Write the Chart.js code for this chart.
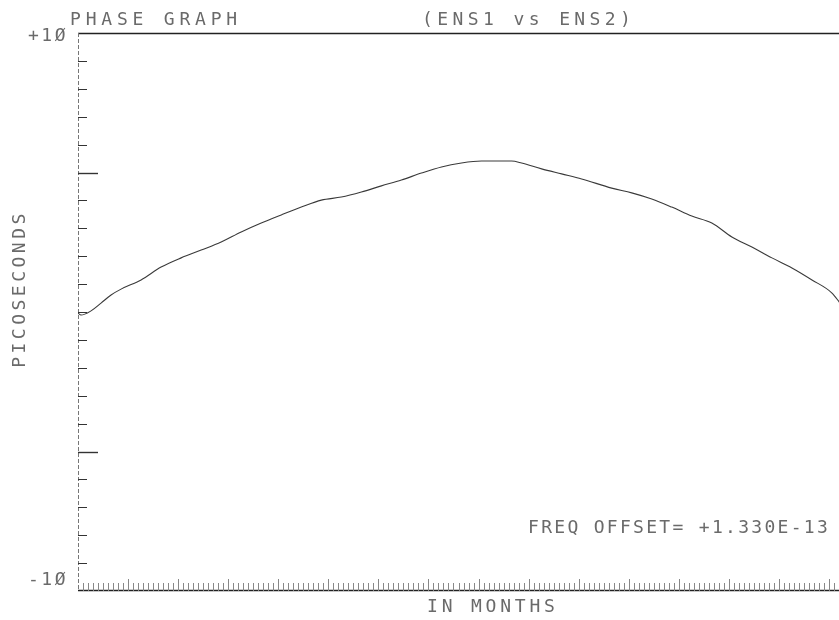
<!DOCTYPE html>
<html>
<head>
<meta charset="utf-8">
<script src="https://cdn.jsdelivr.net/npm/chart.js@4/dist/chart.umd.min.js"></script>
<style>
  html, body { margin: 0; padding: 0; background: #fff; }
  #wrap { width: 839px; height: 620px; position: relative; }
</style>
</head>
<body>
<div id="wrap"><canvas id="phaseChart" width="839" height="620"></canvas></div>
<script>
// time axis (arbitrary plotter units, 0..76) and phase in picoseconds
const timeX = [0, 0.3, 1.3, 2.3, 3.3, 4.3, 6.3, 8.3, 10.3, 12.3, 14.3, 16.3, 18.3, 20.3, 22.3,
  24.3, 26.3, 28.3, 30.3, 32.3, 34.3, 36.3, 38.3, 40.3, 42.3, 43.3, 44.3, 46.3, 48.3, 50.3,
  53.3, 55.3, 57.3, 59.3, 61.3, 63.3, 65.3, 67.3, 69.3, 71.3, 73.3, 75.3, 76.1];
const phasePs = [-0.04, -0.11, 0.04, 0.32, 0.61, 0.82, 1.15, 1.61, 1.94, 2.22, 2.51, 2.87, 3.19, 3.48, 3.76,
  4.01, 4.12, 4.30, 4.52, 4.73, 4.98, 5.20, 5.34, 5.41, 5.41, 5.41, 5.34, 5.13, 4.95, 4.77,
  4.44, 4.27, 4.05, 3.76, 3.44, 3.19, 2.69, 2.33, 1.94, 1.58, 1.15, 0.68, 0.32];

const yTicks = [-10, -9, -8, -7, -6, -5, -4, -3, -2, -1, 0, 1, 2, 3, 4, 5, 6, 7, 8, 9, 10];
const yMajorTicks = [-5, 5];
const yTickLabels = { '10': '+1\u00d8', '-10': '-1\u00d8' };

const titleLeft = 'PHASE GRAPH';
const titleRight = '(ENS1 vs ENS2)';
const yTitle = 'PICOSECONDS';
const xTitle = 'IN MONTHS';
const freqNote = 'FREQ OFFSET= +1.330E-13';

const FONT = '18px "DejaVu Sans Mono", monospace';
const INK = '#6a6a6a';

function txt(ctx, s, x, y, spacing, align) {
  ctx.save();
  ctx.font = FONT;
  ctx.fillStyle = INK;
  ctx.letterSpacing = spacing + 'px';
  ctx.textBaseline = 'middle';
  ctx.textAlign = align || 'left';
  ctx.fillText(s, x, y);
  ctx.restore();
}

const plotterFrame = {
  id: 'plotterFrame',
  beforeDatasetsDraw(chart) {
    const { ctx, chartArea: a, scales: { x, y } } = chart;
    ctx.save();
    // top and bottom frame lines
    ctx.strokeStyle = '#222';
    ctx.lineWidth = 1.3;
    ctx.beginPath();
    ctx.moveTo(a.left, a.top + 0.5); ctx.lineTo(a.right, a.top + 0.5);
    ctx.moveTo(a.left, a.bottom - 0.5); ctx.lineTo(a.right, a.bottom - 0.5);
    ctx.stroke();
    // left axis, light dashed
    ctx.strokeStyle = '#777';
    ctx.lineWidth = 1;
    ctx.setLineDash([4, 2]);
    ctx.beginPath();
    ctx.moveTo(a.left + 0.5, a.top); ctx.lineTo(a.left + 0.5, a.bottom);
    ctx.stroke();
    ctx.setLineDash([]);
    // y ticks pointing into the plot
    ctx.strokeStyle = '#333';
    yTicks.forEach(v => {
      if (v === 10 || v === -10) return;
      const py = Math.round(y.getPixelForValue(v)) + 0.5;
      const major = yMajorTicks.includes(v);
      ctx.lineWidth = major ? 1.4 : 1;
      ctx.beginPath();
      ctx.moveTo(a.left, py); ctx.lineTo(a.left + (major ? 20 : 9), py);
      ctx.stroke();
    });
    // dense x ticks along the bottom
    ctx.strokeStyle = '#888';
    ctx.lineWidth = 1;
    for (let v = 0.5; v <= x.max; v += 0.5) {
      const px = Math.round(x.getPixelForValue(v)) + 0.5;
      const len = (v % 5 === 0) ? 12 : 8;
      ctx.beginPath();
      ctx.moveTo(px, a.bottom); ctx.lineTo(px, a.bottom - len);
      ctx.stroke();
    }
    ctx.restore();

    // texts
    txt(ctx, titleLeft, 70, 20, 4.8);
    txt(ctx, titleRight, 422, 20, 4.4);
    txt(ctx, yTickLabels['10'], 28, 36, 2.5);
    txt(ctx, yTickLabels['-10'], 28, 580, 2.5);
    txt(ctx, xTitle, 427, 607, 3.8);
    txt(ctx, freqNote, 528, 528, 2.3);
    ctx.save();
    ctx.translate(20, 289);
    ctx.rotate(-Math.PI / 2);
    txt(ctx, yTitle, 0, 0, 3.5, 'center');
    ctx.restore();
  }
};

new Chart(document.getElementById('phaseChart'), {
  type: 'line',
  data: {
    datasets: [{
      data: timeX.map((t, i) => ({ x: t, y: phasePs[i] })),
      borderColor: '#3a3a3a',
      borderWidth: 1.1,
      pointRadius: 0,
      cubicInterpolationMode: 'monotone',
      fill: false
    }]
  },
  options: {
    responsive: false,
    animation: false,
    layout: { padding: { left: 78, top: 33, right: 0, bottom: 29 } },
    plugins: { legend: { display: false }, tooltip: { enabled: false } },
    scales: {
      x: { type: 'linear', min: 0, max: 76, display: false },
      y: { type: 'linear', min: -10, max: 10, display: false }
    }
  },
  plugins: [plotterFrame]
});
</script>
</body>
</html>
